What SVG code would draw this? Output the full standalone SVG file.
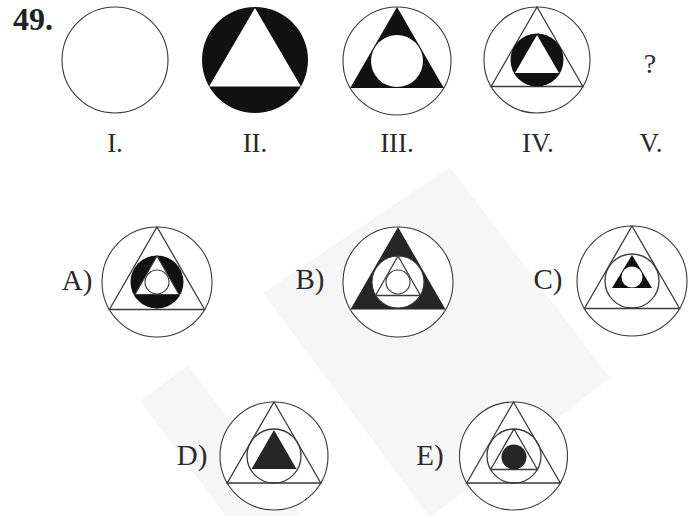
<svg xmlns="http://www.w3.org/2000/svg" width="700" height="516" viewBox="0 0 700 516">
<style>
.ln{fill:none;stroke:#3a3a3a;stroke-width:1.3}
.lw{fill:#fff;stroke:#3a3a3a;stroke-width:1.1}
.blk{fill:#111}
.dk{fill:#262626}
.wh{fill:#fff}
.wm{fill:#f6f6f6}
.num{font-family:"Liberation Serif",serif;font-size:27px;fill:#2a2a2a;text-anchor:middle}
.opt{font-family:"Liberation Serif",serif;font-size:29px;fill:#2a2a2a;text-anchor:middle}
</style>
<rect width="700" height="516" fill="#fff"/>
<g id="watermark">
<polygon class="wm" points="450,167 610,378 430,518 263,293"/>
<polygon class="wm" points="188,365 301,516 226,516 140,401"/>
</g>
<text x="33" y="30" font-family="Liberation Serif,serif" font-size="32" font-weight="bold" fill="#222" text-anchor="middle">49.</text>
<g id="fig-I">
<circle class="lw" cx="115" cy="60" r="53"/>
<text class="num" x="115" y="152">I.</text>
</g>
<g id="fig-II">
<circle class="blk" cx="255" cy="60" r="53"/>
<polygon class="wh" points="255,8 209.1,86.5 300.9,86.5"/>
<text class="num" x="255" y="152">II.</text>
</g>
<g id="fig-III">
<circle class="lw" cx="397" cy="61" r="54"/>
<polygon class="blk" points="397,7 350.2,88 443.8,88"/>
<circle class="wh" cx="397" cy="61" r="26"/>
<text class="num" x="397" y="152">III.</text>
</g>
<g id="fig-IV">
<circle class="lw" cx="537" cy="60" r="53"/>
<polygon class="ln" points="537,7 491.1,86.5 582.9,86.5"/>
<circle class="blk" cx="537" cy="60" r="26.5"/>
<polygon class="wh" points="537,35 515,73 559,73"/>
<text class="num" x="538" y="152">IV.</text>
</g>
<g id="fig-V">
<text x="650" y="73" font-family="Liberation Serif,serif" font-size="28" fill="#2a2a2a" text-anchor="middle">?</text>
<text class="num" x="651" y="152">V.</text>
</g>
<g id="opt-A">
<text class="opt" x="77" y="290">A)</text>
<circle class="lw" cx="157" cy="282" r="55"/>
<polygon class="ln" points="157,227 109.4,309.5 204.6,309.5"/>
<circle class="blk" cx="157" cy="282" r="26.5"/>
<polygon class="lw" points="157,256 135,294.5 179,294.5"/>
<circle class="lw" cx="157" cy="282" r="12"/>
</g>
<g id="opt-B">
<text class="opt" x="310" y="289">B)</text>
<circle class="lw" cx="398" cy="282" r="55"/>
<polygon class="dk" points="398,227 350.4,309.5 445.6,309.5"/>
<circle class="lw" cx="398" cy="282" r="26"/>
<polygon class="ln" points="398,256 375.5,295.5 420.5,295.5"/>
<circle class="lw" cx="398" cy="282" r="12"/>
</g>
<g id="opt-C">
<text class="opt" x="548" y="289">C)</text>
<circle class="lw" cx="632" cy="281" r="55"/>
<polygon class="ln" points="632,226 584.4,308.5 679.6,308.5"/>
<circle class="ln" cx="632" cy="281" r="27"/>
<polygon class="blk" points="632,255 612,288 652,288"/>
<circle class="wh" cx="632" cy="277" r="10.5"/>
</g>
<g id="opt-D">
<text class="opt" x="192" y="465">D)</text>
<circle class="lw" cx="274" cy="456" r="54"/>
<polygon class="ln" points="274,402 227.2,483 320.8,483"/>
<circle class="ln" cx="274" cy="456" r="27"/>
<polygon class="dk" points="274,430 251.5,469 296.5,469"/>
</g>
<g id="opt-E">
<text class="opt" x="430" y="465">E)</text>
<circle class="lw" cx="513.5" cy="456" r="54"/>
<polygon class="ln" points="513.5,402 466.7,483 560.3,483"/>
<circle class="ln" cx="514" cy="456" r="27"/>
<polygon class="ln" points="514,429 490.6,469.5 537.4,469.5"/>
<circle class="dk" cx="514" cy="457" r="12.5"/>
</g>
</svg>
